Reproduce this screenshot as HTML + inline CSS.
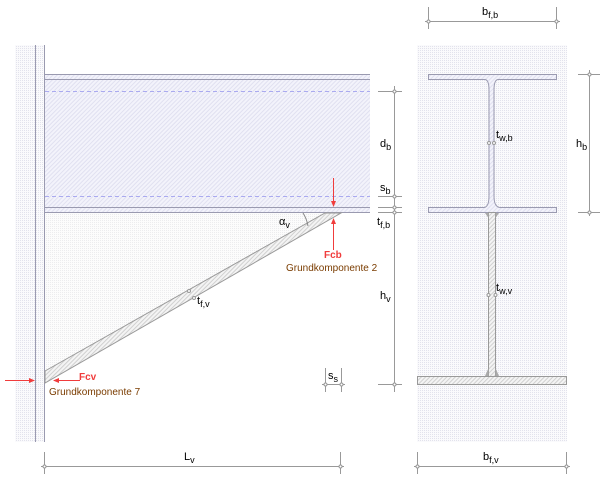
<!DOCTYPE html>
<html><head><meta charset="utf-8"><style>
html,body{margin:0;padding:0;background:#fff;}
svg{display:block;font-family:"Liberation Sans",sans-serif;}
</style></head><body>
<svg width="604" height="480" viewBox="0 0 604 480" xmlns="http://www.w3.org/2000/svg">
<defs>
<pattern id="dots" width="2" height="2" patternUnits="userSpaceOnUse">
<rect width="2" height="2" fill="#fcfcfc"/><rect width="1" height="1" fill="#ececee"/>
</pattern>
<pattern id="dotsb" width="2" height="2" patternUnits="userSpaceOnUse">
<rect width="2" height="2" fill="#fafafc"/><rect width="1" height="1" fill="#e2e2ec"/>
</pattern>
<pattern id="hatch" width="3" height="3" patternUnits="userSpaceOnUse" patternTransform="rotate(45)">
<rect width="3" height="3" fill="#f3f3fb"/><rect width="1" height="3" fill="#e0e0f0"/>
</pattern>
<pattern id="hatchg" width="3" height="3" patternUnits="userSpaceOnUse" patternTransform="rotate(45)">
<rect width="3" height="3" fill="#f4f4f4"/><rect width="1" height="3" fill="#d0d0d0"/>
</pattern>
</defs>
<g fill="none" stroke="#999" stroke-width="1">
<rect x="15" y="45" width="29" height="397" fill="url(#dotsb)" stroke="none"/>
<line x1="35.5" y1="45" x2="35.5" y2="442" stroke="#9a9ab0"/>
<line x1="44.5" y1="45" x2="44.5" y2="442" stroke="#9a9ab0"/>
<polygon points="45,213 337,213 45,380" fill="url(#dots)" stroke="none"/>
<rect x="45" y="74" width="325" height="138" fill="url(#hatch)" stroke="none"/>
<line x1="45" y1="74.5" x2="370" y2="74.5" stroke="#9a9ab0"/>
<line x1="45" y1="79.5" x2="370" y2="79.5" stroke="#9a9ab0"/>
<line x1="45" y1="207.5" x2="370" y2="207.5" stroke="#9a9ab0"/>
<line x1="45" y1="212.5" x2="370" y2="212.5" stroke="#9a9ab0"/>
<line x1="45" y1="91.5" x2="370" y2="91.5" stroke="#aaaaf0" stroke-dasharray="4,3"/>
<line x1="45" y1="196.5" x2="370" y2="196.5" stroke="#aaaaf0" stroke-dasharray="4,3"/>
<polygon points="45,371 325,213 341,213 45,383" fill="url(#hatchg)" stroke="#999"/>
<path d="M303,213 A35,35 0 0 1 308,226" stroke="#888"/>
<line x1="394.5" y1="86" x2="394.5" y2="392"/>
<line x1="378" y1="91.5" x2="402" y2="91.5"/>
<line x1="378" y1="196.5" x2="402" y2="196.5"/>
<line x1="378" y1="207.5" x2="402" y2="207.5"/>
<line x1="378" y1="212.5" x2="402" y2="212.5"/>
<line x1="378" y1="384.5" x2="402" y2="384.5"/>
<g fill="#fff"><circle cx="394.5" cy="91.5" r="1.5"/><circle cx="394.5" cy="196.5" r="1.5"/><circle cx="394.5" cy="207.5" r="1.5"/><circle cx="394.5" cy="212.5" r="1.5"/><circle cx="394.5" cy="384.5" r="1.5"/></g>
<line x1="325.5" y1="368" x2="325.5" y2="392"/>
<line x1="341.5" y1="368" x2="341.5" y2="392"/>
<line x1="322" y1="384.5" x2="345" y2="384.5"/>
<circle cx="325.5" cy="384.5" r="1.5" fill="#fff"/><circle cx="341.5" cy="384.5" r="1.5" fill="#fff"/>
<line x1="44.5" y1="452" x2="44.5" y2="474"/>
<line x1="340.5" y1="452" x2="340.5" y2="474"/>
<line x1="41" y1="466.5" x2="344" y2="466.5"/>
<circle cx="44.5" cy="466.5" r="1.5" fill="#fff"/><circle cx="340.5" cy="466.5" r="1.5" fill="#fff"/>
<circle cx="189" cy="291" r="1.5" fill="#fff"/><circle cx="194" cy="298" r="1.5" fill="#fff"/>
<rect x="417" y="45" width="150" height="397" fill="url(#dotsb)" stroke="none"/>
<path d="M428.5,74.5 H556.5 V79.5 H498 Q494,80 494,90 V196 Q494,207 500,207.5 H556.5 V212.5 H428.5 V207.5 H484 Q489,207 489,196 V90 Q489,80 485,79.5 H428.5 Z" fill="url(#hatch)" stroke="#9a9ab0"/>
<rect x="488.5" y="212.5" width="7" height="164" fill="url(#hatchg)" stroke="#999"/>
<path d="M485,376 L488.5,368 L488.5,376Z M499,376 L495.5,368 L495.5,376Z M485,213 L488.5,218 L488.5,213Z M499,213 L495.5,218 L495.5,213Z" fill="#aaa" stroke="none"/>
<rect x="417.5" y="376.5" width="149" height="8" fill="url(#hatchg)" stroke="#999"/>
<circle cx="489" cy="143" r="1.5" fill="#fff"/><circle cx="494" cy="143" r="1.5" fill="#fff"/>
<circle cx="488.5" cy="295" r="1.5" fill="#fff"/><circle cx="495.5" cy="295" r="1.5" fill="#fff"/>
<line x1="589.5" y1="70" x2="589.5" y2="216"/>
<line x1="578" y1="74.5" x2="600" y2="74.5"/>
<line x1="578" y1="212.5" x2="600" y2="212.5"/>
<circle cx="589.5" cy="74.5" r="1.5" fill="#fff"/><circle cx="589.5" cy="212.5" r="1.5" fill="#fff"/>
<line x1="428.5" y1="7" x2="428.5" y2="29"/>
<line x1="556.5" y1="7" x2="556.5" y2="29"/>
<line x1="425" y1="21.5" x2="560" y2="21.5"/>
<circle cx="428.5" cy="21.5" r="1.5" fill="#fff"/><circle cx="556.5" cy="21.5" r="1.5" fill="#fff"/>
<line x1="417.5" y1="452" x2="417.5" y2="474"/>
<line x1="566.5" y1="452" x2="566.5" y2="474"/>
<line x1="414" y1="466.5" x2="570" y2="466.5"/>
<circle cx="417.5" cy="466.5" r="1.5" fill="#fff"/><circle cx="566.5" cy="466.5" r="1.5" fill="#fff"/>
</g>
<g stroke="#f03c3c" stroke-width="1" fill="#f03c3c">
<line x1="333.5" y1="178" x2="333.5" y2="206"/><path d="M331,201 L336,201 L333.5,207Z" stroke="none"/>
<line x1="333.5" y1="220" x2="333.5" y2="250"/><path d="M331,224 L336,224 L333.5,218Z" stroke="none"/>
<line x1="5" y1="380.5" x2="34" y2="380.5"/><path d="M29,378 L29,383 L35,380.5Z" stroke="none"/>
<line x1="54" y1="380.5" x2="80" y2="380.5"/><path d="M59,378 L59,383 L53,380.5Z" stroke="none"/>
</g>
<g font-size="11" fill="#000">
<text x="380" y="147">d<tspan font-size="9" dy="3">b</tspan></text>
<text x="380" y="191">s<tspan font-size="9" dy="3">b</tspan></text>
<text x="377" y="225">t<tspan font-size="9" dy="3">f,b</tspan></text>
<text x="380" y="299">h<tspan font-size="9" dy="3">v</tspan></text>
<text x="279" y="225">α<tspan font-size="9" dy="3">v</tspan></text>
<text x="197" y="304">t<tspan font-size="9" dy="3">f,v</tspan></text>
<text x="328" y="379">s<tspan font-size="9" dy="3">s</tspan></text>
<text x="184" y="460">L<tspan font-size="9" dy="3">v</tspan></text>
<text x="482" y="15">b<tspan font-size="9" dy="3">f,b</tspan></text>
<text x="496" y="138">t<tspan font-size="9" dy="3">w,b</tspan></text>
<text x="576" y="147">h<tspan font-size="9" dy="3">b</tspan></text>
<text x="496" y="291">t<tspan font-size="9" dy="3">w,v</tspan></text>
<text x="483" y="460">b<tspan font-size="9" dy="3">f,v</tspan></text>
</g>
<g font-size="10">
<text x="324" y="258" fill="#f03c3c" font-weight="bold">Fcb</text>
<text x="286" y="271" fill="#7a3c00">Grundkomponente 2</text>
<text x="79" y="380" fill="#f03c3c" font-weight="bold">Fcv</text>
<text x="49" y="395" fill="#7a3c00">Grundkomponente 7</text>
</g>
</svg>
</body></html>
